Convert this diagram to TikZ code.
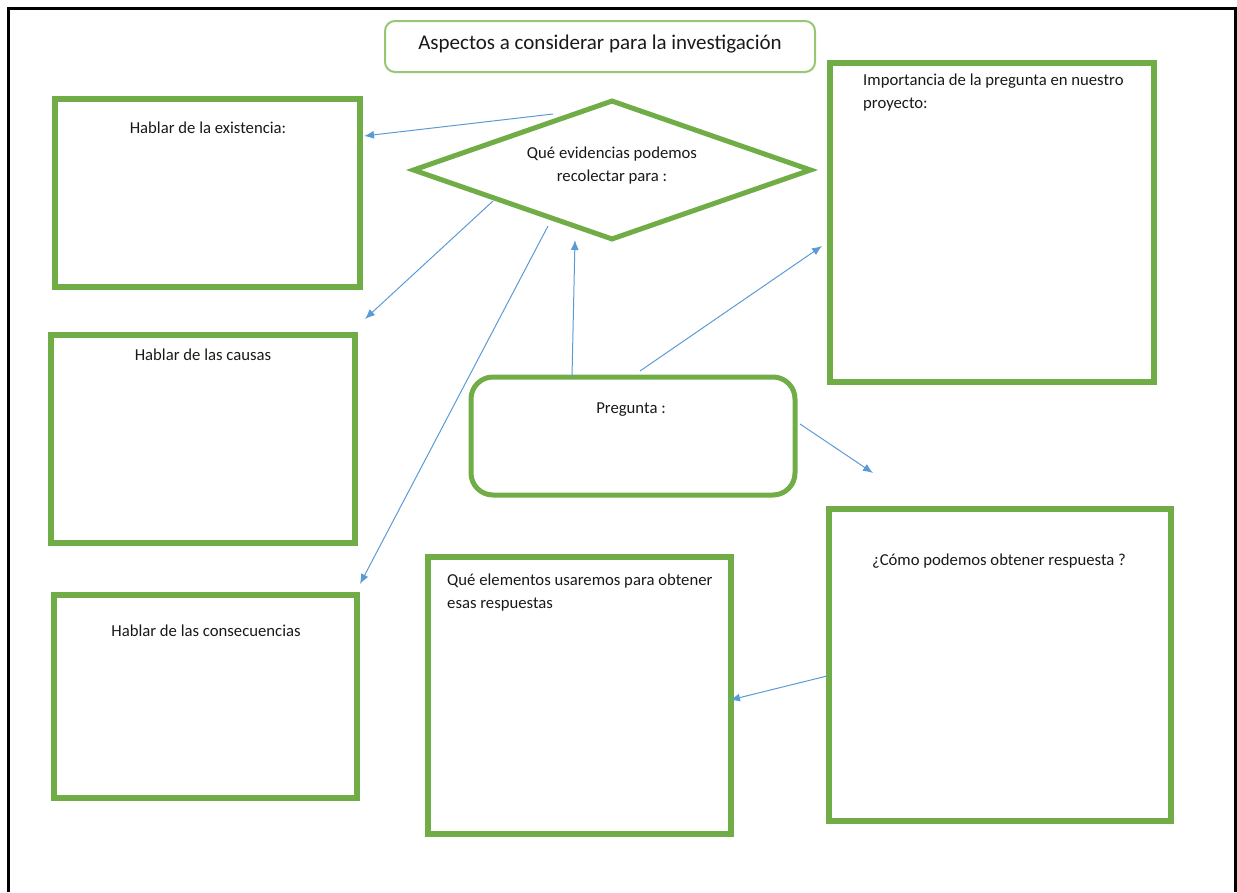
\documentclass[tikz,border=0pt]{standalone}
\usepackage{fontspec}
\setmainfont{Carlito}
\usetikzlibrary{arrows.meta,shapes.geometric,fit}
\definecolor{boxgreen}{RGB}{112,173,71}
\definecolor{titlegreen}{RGB}{150,200,115}
\definecolor{linkblue}{RGB}{91,155,213}
\begin{document}
\begin{tikzpicture}[x=1pt,y=-1pt,
  box/.style={draw=boxgreen,line width=6pt,inner sep=0pt,fill=none},
  lbl/.style={inner sep=0pt,font=\fontsize{16.7}{23}\selectfont,text=black!90},
  link/.style={draw=linkblue,line width=1pt,-{Latex[length=10pt,width=8pt]}}]
\useasboundingbox (0,0) rectangle (1237,892);
% outer frame, open at the bottom
\draw[line width=3pt] (8.5,892) -- (8.5,8.5) -- (1235.5,8.5) -- (1235.5,892);

% title
\node[draw=titlegreen,line width=2pt,rounded corners=10pt,inner sep=0pt,
      fit={(385,21) (815,72)}] (title) {};
\node[inner sep=0pt,font=\fontsize{21}{24}\selectfont,text=black!90] (titletext) at (600,44) {Aspectos a considerar para la investigación};

% central diamond
\node[draw=boxgreen,line width=5pt,shape=diamond,inner sep=0pt,
      minimum width=399pt,minimum height=140pt] (dia) at (612,170) {};
\node[lbl,align=center] (diatext) at (612,166) {Qué evidencias podemos\\recolectar para :};

% left column
\node[box,fit={(55,99) (360,287)}] (exist) {};
\node[lbl] (existtext) at (208,128) {Hablar de la existencia:};
\node[box,fit={(51,335) (355,543)}] (causas) {};
\node[lbl] (causastext) at (203,355) {Hablar de las causas};
\node[box,fit={(54,595) (357,798)}] (conse) {};
\node[lbl] (consetext) at (206,631) {Hablar de las consecuencias};

% question box
\node[draw=boxgreen,line width=5pt,rounded corners=22pt,inner sep=0pt,
      fit={(471,377) (795,495)}] (preg) {};
\node[lbl] (pregtext) at (631,410) {Pregunta :};

% right column
\node[box,fit={(830,63) (1154,382)}] (impo) {};
\node[lbl,anchor=west,align=left] (impotext) at (863,93) {Importancia de la pregunta en nuestro\\proyecto:};
\node[box,fit={(829,509) (1171,821)}] (como) {};
\node[lbl] (comotext) at (999,561) {¿Cómo podemos obtener respuesta ?};
\node[box,fit={(428,557) (731,834)}] (elem) {};
\node[lbl,anchor=west,align=left] (elemtext) at (447,593) {Qué elementos usaremos para obtener\\esas respuestas};

% connector end points
\coordinate (d1) at (553,114);
\coordinate (e1) at (364,136);
\coordinate (d2) at (493,201);
\coordinate (c2) at (365,319);
\coordinate (d3) at (548,226);
\coordinate (c3) at (360,584);
\coordinate (p4) at (572,377);
\coordinate (d4) at (575,240);
\coordinate (p5) at (640,371);
\coordinate (i5) at (822,246);
\coordinate (p6) at (800,424);
\coordinate (q6) at (873,473);
\coordinate (m7) at (827,676);
\coordinate (e7) at (730,700);

\draw[link] (d1) -- (e1);
\draw[link] (d2) -- (c2);
\draw[link] (d3) -- (c3);
\draw[link] (p4) -- (d4);
\draw[link] (p5) -- (i5);
\draw[link] (p6) -- (q6);
\draw[link] (m7) -- (e7);
\end{tikzpicture}
\end{document}
